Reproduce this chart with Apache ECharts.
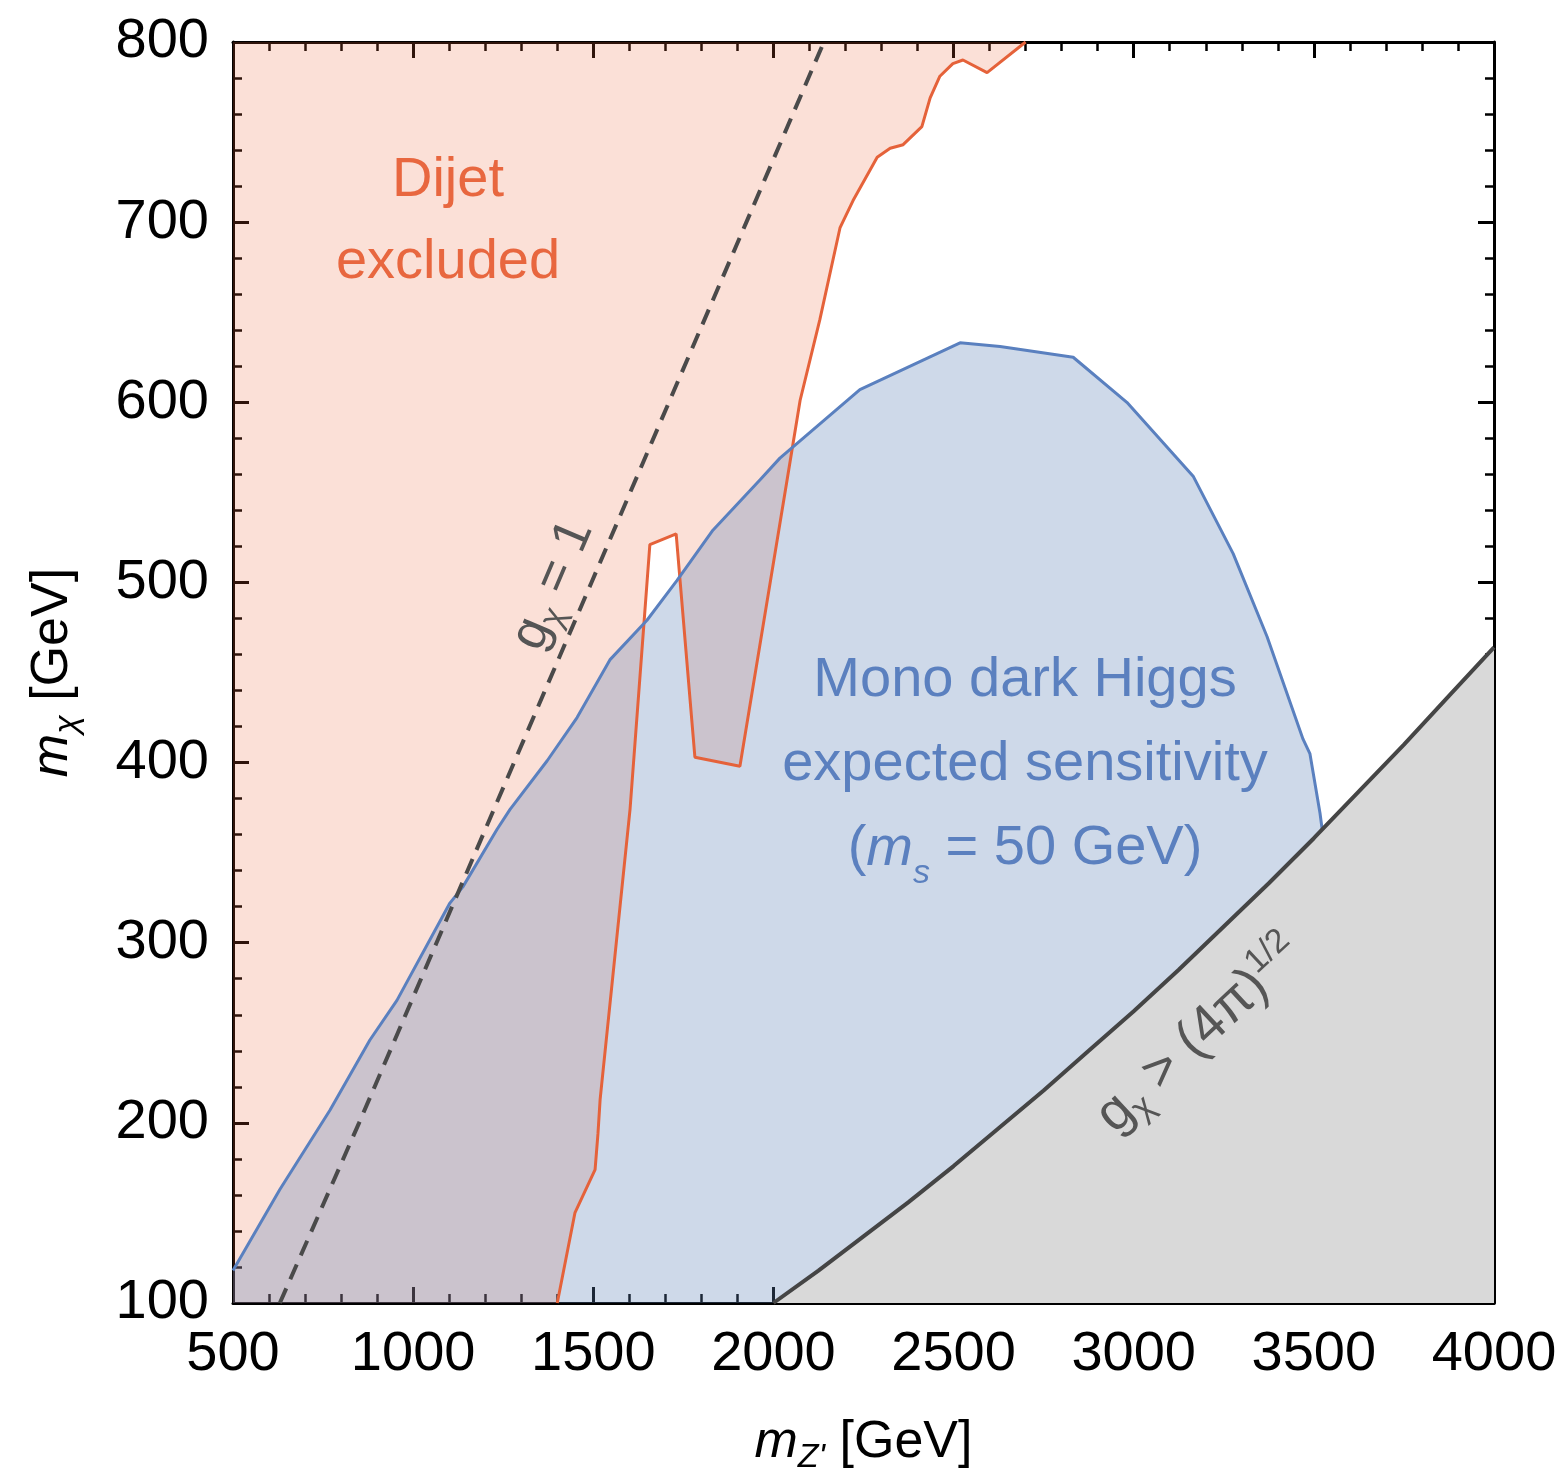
<!DOCTYPE html>
<html>
<head>
<meta charset="utf-8">
<script src="https://cdn.jsdelivr.net/npm/echarts@6/dist/echarts.min.js"></script>
<style>
  html, body { margin: 0; padding: 0; background: #fff; }
  #main { width: 1563px; height: 1480px; }
</style>
</head>
<body>
<div id="main"></div>
<script>
// dijet exclusion boundary (m_Z', m_chi)
var dijetX = [1400, 1449, 1505, 1513, 1519, 1602, 1657, 1730, 1782, 1907, 2038, 2074, 2129, 2185, 2221, 2288, 2324, 2360, 2412, 2435, 2462, 2498, 2526, 2593, 2700];
var dijetY = [100, 150, 174, 194, 213, 374, 521, 527, 403, 398, 557, 601, 646, 697, 712, 736, 741, 743, 753, 769, 781, 788, 790, 783, 800];

// mono dark Higgs expected sensitivity contour
var monoX = [500, 630, 769, 880, 955, 1102, 1138, 1233, 1269, 1372, 1455, 1546, 1649, 1732, 1832, 1963, 2018, 2240, 2518, 2629, 2832, 2981, 3165, 3276, 3370, 3470, 3489, 3517, 3523];
var monoY = [118, 163, 207, 246, 268, 322, 331, 363, 374, 401, 425, 457, 479, 501, 529, 557, 569, 607, 633, 631, 625, 600, 559, 516, 470, 413, 405, 372, 363];

// perturbative unitarity bound g_chi > sqrt(4 pi)
var unitX = [2000, 2125, 2250, 2375, 2500, 2625, 2750, 2875, 3000, 3125, 3250, 3375, 3500, 3625, 3750, 3875, 4000];
var unitY = [100, 118, 137, 156, 176, 197, 218, 240, 262, 285, 309, 333, 358, 384, 410, 437, 464];

// g_chi = 1 contour
var gOneX = [630, 850, 1065, 1280, 1495, 1710, 1925, 2140];
var gOneY = [100, 200, 300, 400, 500, 600, 700, 800];

var xMin = 500, xMax = 4000, yMin = 100, yMax = 800;

var FONT = '"Liberation Sans", Arial, Helvetica, sans-serif';
var chart = echarts.init(document.getElementById('main'));

function pairs(xs, ys) {
    return xs.map(function (x, i) { return [x, ys[i]]; });
}

function area(pts, color, z) {
    return {
        type: 'custom',
        coordinateSystem: 'cartesian2d',
        silent: true,
        z: z,
        data: [pts[0]],
        renderItem: function (params, api) {
            return {
                type: 'polygon',
                shape: { points: pts.map(function (p) { return api.coord(p); }) },
                style: { fill: color }
            };
        }
    };
}

function curve(xs, ys, color, width, type, z) {
    return {
        type: 'line',
        data: pairs(xs, ys),
        showSymbol: false,
        silent: true,
        z: z,
        lineStyle: { color: color, width: width, type: type }
    };
}

var dijetPoly = [[xMin, yMin]].concat(pairs(dijetX, dijetY), [[xMin, yMax]]);
var monoPoly = pairs(monoX, monoY).concat([[monoX[monoX.length - 1], yMin], [xMin, yMin]]);
var unitPoly = pairs(unitX, unitY).concat([[xMax, yMin]]);

function baseAxis(pos, labels) {
    return {
        type: 'value',
        position: pos,
        splitLine: { show: false },
        axisLine: { onZero: false, lineStyle: { color: '#000', width: 3 } },
        axisTick: { inside: true, length: 16, lineStyle: { color: '#000', width: 3 } },
        minorTick: { show: true, splitNumber: 5, length: 9, lineStyle: { color: '#000', width: 2.5 } },
        axisLabel: {
            show: labels, fontSize: 56, color: '#000', fontFamily: FONT, margin: 24,
            formatter: function (v) { return String(v); }
        }
    };
}

var nameStyle = {
    fontSize: 52, color: '#000', fontFamily: FONT, lineHeight: 64,
    rich: {
        i: { fontSize: 52, fontStyle: 'italic', fontFamily: FONT, lineHeight: 64 },
        sub: { fontSize: 34, fontStyle: 'italic', fontFamily: FONT, lineHeight: 34, verticalAlign: 'bottom' }
    }
};

var xBottom = baseAxis('bottom', true);
xBottom.min = xMin; xBottom.max = xMax; xBottom.interval = 500;
xBottom.name = '{i|m}{sub|Z\'} [GeV]';
xBottom.nameLocation = 'middle';
xBottom.nameGap = 108;
xBottom.nameTextStyle = nameStyle;
var xTop = baseAxis('top', false);
xTop.min = xMin; xTop.max = xMax; xTop.interval = 500;

var yLeft = baseAxis('left', true);
yLeft.min = yMin; yLeft.max = yMax; yLeft.interval = 100;
yLeft.name = '{i|m}{sub|χ} [GeV]';
yLeft.nameLocation = 'middle';
yLeft.nameGap = 148;
yLeft.nameTextStyle = nameStyle;
var yRight = baseAxis('right', false);
yRight.min = yMin; yRight.max = yMax; yRight.interval = 100;

var option = {
    animation: false,
    backgroundColor: '#fff',
    grid: { left: 233, right: 69, top: 42, bottom: 177, containLabel: false },
    xAxis: [xBottom, xTop],
    yAxis: [yLeft, yRight],
    series: [
        area(dijetPoly, 'rgba(235,98,53,0.2)', 1),
        area(monoPoly, 'rgba(94,129,181,0.3)', 2),
        area(unitPoly, '#d9d9d9', 3),
        curve(dijetX, dijetY, '#e5623a', 3, 'solid', 5),
        curve(monoX, monoY, '#5a80bf', 3, 'solid', 5),
        curve(unitX, unitY, '#454545', 4, 'solid', 6),
        curve(gOneX, gOneY, '#4a4a4a', 4, [16, 10], 6)
    ],
    graphic: [
        {
            type: 'text', x: 448, y: 222, z: 100,
            style: {
                text: 'Dijet\nexcluded', fill: '#e8673f', fontSize: 56, fontFamily: FONT,
                lineHeight: 82, align: 'center', verticalAlign: 'middle'
            }
        },
        {
            type: 'text', x: 1025, y: 765, z: 100,
            style: {
                text: 'Mono dark Higgs\nexpected sensitivity\n({i|m}{sub|s} = 50 GeV)',
                fill: '#5b80bf', fontSize: 56, fontFamily: FONT, lineHeight: 84,
                align: 'center', verticalAlign: 'middle',
                rich: {
                    i: { fontSize: 56, fontStyle: 'italic', fontFamily: FONT, fill: '#5b80bf', lineHeight: 84 },
                    sub: { fontSize: 34, fontStyle: 'italic', fontFamily: FONT, fill: '#5b80bf', lineHeight: 50, verticalAlign: 'bottom' }
                }
            }
        },
        {
            type: 'text', x: 553, y: 585, z: 100, rotation: 67 * Math.PI / 180,
            style: {
                text: 'g{sub|χ} = 1', fill: '#555', fontSize: 52, fontFamily: FONT, lineHeight: 62,
                align: 'center', verticalAlign: 'middle',
                rich: {
                    sub: { fontSize: 34, fontFamily: FONT, fill: '#555', lineHeight: 34, verticalAlign: 'bottom' }
                }
            }
        },
        {
            type: 'text', x: 1200, y: 1035, z: 100, rotation: 43 * Math.PI / 180,
            style: {
                text: 'g{sub|χ} > (4π){sup|1/2}', fill: '#555', fontSize: 54, fontFamily: FONT, lineHeight: 64,
                align: 'center', verticalAlign: 'middle',
                rich: {
                    sub: { fontSize: 34, fontFamily: FONT, fill: '#555', lineHeight: 34, verticalAlign: 'bottom' },
                    sup: { fontSize: 34, fontFamily: FONT, fill: '#555', lineHeight: 34, verticalAlign: 'top' }
                }
            }
        }
    ]
};

chart.setOption(option);
</script>
</body>
</html>
